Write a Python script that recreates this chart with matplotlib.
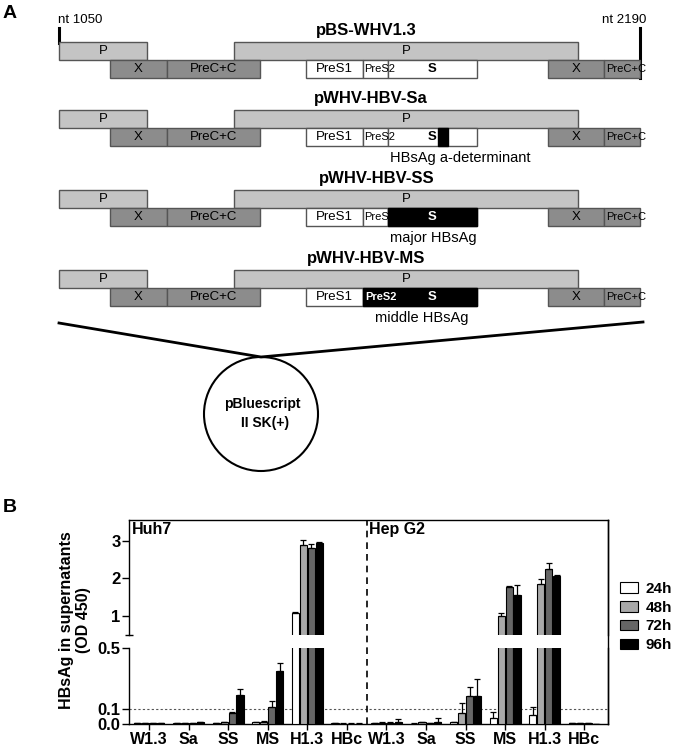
import numpy as np
import matplotlib.pyplot as plt
import matplotlib.transforms as mtransforms
from matplotlib.patches import Rectangle, Circle, Patch
from matplotlib.lines import Line2D

plt.rcParams['font.family'] = ['Liberation Sans', 'DejaVu Sans']

# ---------------- panel B data ----------------
constructs = ["W1.3", "Sa", "SS", "MS", "H1.3", "HBc"]
cell_lines = ["Huh7", "Hep G2"]
timepoints = ["24h", "48h", "72h", "96h"]
bar_colors = ["white", "#a9a9a9", "#666666", "black"]

# OD 450, Huh7 constructs then Hep G2 constructs
od_24h = [0.005, 0.005, 0.005, 0.010, 1.09, 0.005, 0.005, 0.003, 0.013, 0.041, 0.059, 0.005]
od_48h = [0.005, 0.005, 0.010, 0.015, 2.89, 0.003, 0.008, 0.010, 0.074, 1.00, 1.85, 0.005]
od_72h = [0.005, 0.005, 0.074, 0.110, 2.81, 0.003, 0.008, 0.005, 0.184, 1.78, 2.24, 0.005]
od_96h = [0.005, 0.012, 0.190, 0.350, 2.94, 0.003, 0.010, 0.010, 0.184, 1.55, 2.07, 0.002]
# upper error (SD)
sd_24h = [0.002, 0.002, 0.002, 0.003, 0.03, 0.002, 0.003, 0.002, 0.003, 0.038, 0.05, 0.002]
sd_48h = [0.002, 0.002, 0.003, 0.003, 0.12, 0.002, 0.004, 0.006, 0.066, 0.08, 0.13, 0.002]
sd_72h = [0.002, 0.002, 0.005, 0.040, 0.10, 0.002, 0.004, 0.004, 0.060, 0.02, 0.18, 0.003]
sd_96h = [0.002, 0.004, 0.040, 0.050, 0.02, 0.002, 0.020, 0.030, 0.110, 0.28, 0.02, 0.001]

# ---------------- panel A gene map (pixel units) ----------------
p_row = [(59, 147), (234, 578)]
lower_row = [(110, 167, "X"), (167, 260, "PreC+C"), (306, 363, "PreS1"),
             (363, 388, "PreS2"), (388, 477, "S"), (548, 604, "X"), (604, 640, "PreC+C")]
plasmids = ["pBS-WHV1.3", "pWHV-HBV-Sa", "pWHV-HBV-SS", "pWHV-HBV-MS"]
plasmid_x = [366, 371, 377, 366]
plasmid_y = [31, 99, 178, 258]
row_top = [42, 110, 190, 270]
row_h = 18
black_parts = [[], [(438, 448)], [(388, 477)], [(363, 477)]]
notes = ["", "HBsAg a-determinant", "major HBsAg", "middle HBsAg"]
notes_x = [0, 390, 433, 422]
notes_ha = ["left", "left", "center", "center"]

P_COL = "#c4c4c4"
X_COL = "#8c8c8c"
EDGE = "#555555"

W, H = 673, 747
fig = plt.figure(figsize=(W / 100, H / 100), dpi=100)

ax0 = fig.add_axes([0, 0, 1, 1])
ax0.set_xlim(0, W)
ax0.set_ylim(H, 0)
ax0.axis("off")

ax0.text(3, 14, "A", fontsize=14, fontweight="bold", va="center")
ax0.text(3, 508, "B", fontsize=14, fontweight="bold", va="center")
ax0.text(58, 20, "nt 1050", fontsize=9.5, va="center")
ax0.text(602, 20, "nt 2190", fontsize=9.5, va="center")
ax0.plot([59, 59], [28, 43], color="black", lw=2.2)
ax0.plot([640, 640], [28, 78], color="black", lw=2.2)

for k, name in enumerate(plasmids):
    y0 = row_top[k]
    y1 = y0 + row_h
    ax0.text(plasmid_x[k], plasmid_y[k], name, fontsize=12, fontweight="bold",
             ha="center", va="center")
    for a, b in p_row:
        ax0.add_patch(Rectangle((a, y0), b - a, row_h, fc=P_COL, ec=EDGE, lw=1, zorder=2))
        ax0.text((a + b) / 2, y0 + row_h / 2, "P", fontsize=9.5, ha="center", va="center", zorder=4)
    for a, b, lab in lower_row:
        fc = X_COL if lab in ("X", "PreC+C") else "white"
        ax0.add_patch(Rectangle((a, y1), b - a, row_h, fc=fc, ec=EDGE, lw=1, zorder=2))
        if lab == "PreS2":
            ax0.text(a + 1, y1 + row_h / 2, "PreS2", fontsize=8, ha="left", va="center", zorder=4)
        elif b == 640:
            ax0.text(a + 2, y1 + row_h / 2, lab, fontsize=8, ha="left", va="center", zorder=4)
        elif lab == "S":
            col = "white" if k >= 2 else "black"
            ax0.text(432, y1 + row_h / 2, "S", fontsize=9.5, fontweight="bold",
                     color=col, ha="center", va="center", zorder=6)
        else:
            ax0.text((a + b) / 2, y1 + row_h / 2, lab, fontsize=9.5, ha="center", va="center", zorder=4)
    for a, b in black_parts[k]:
        ax0.add_patch(Rectangle((a, y1), b - a, row_h, fc="black", ec="black", lw=1, zorder=5))
    if k == 3:
        ax0.text(365, y1 + row_h / 2, "PreS2", fontsize=8, color="white", fontweight="bold",
                 ha="left", va="center", zorder=6)
    if notes[k]:
        ax0.text(notes_x[k], y1 + row_h + 12, notes[k], fontsize=10.5, ha=notes_ha[k], va="center")

ax0.plot([59, 261, 643], [323, 357, 322], color="black", lw=2)
ax0.add_patch(Circle((261, 414), 57, fc="none", ec="black", lw=1.5))
ax0.text(262, 404, "pBluescript", fontsize=10, fontweight="bold", ha="center", va="center")
ax0.text(265, 423, "II SK(+)", fontsize=10, fontweight="bold", ha="center", va="center")

# ---------------- panel B ----------------
x = np.arange(len(constructs) * len(cell_lines))
xlim = (-0.506, 11.6)
left = 129 / W
width = (608 - 129) / W
ax_hi = fig.add_axes([left, 1 - 635 / H, width, 115 / H])
ax_lo = fig.add_axes([left, 1 - 724 / H, width, 76 / H])

vals = [od_24h, od_48h, od_72h, od_96h]
errs = [sd_24h, sd_48h, sd_72h, sd_96h]
bw = 0.18
offs = (np.arange(4) - 1.5) * 0.2

for ax in (ax_hi, ax_lo):
    for j in range(4):
        v = np.array(vals[j])
        e = np.array(errs[j])
        ax.bar(x + offs[j], v, bw, color=bar_colors[j], edgecolor="black", lw=0.8,
               yerr=[np.zeros_like(e), e],
               error_kw=dict(capsize=2, elinewidth=0.9, capthick=0.9, ecolor="black"),
               zorder=3)
    ax.set_xlim(*xlim)
    ax.tick_params(axis="y", labelsize=12, length=5, width=1, pad=1)
    for s in ax.spines.values():
        s.set_linewidth(1)

ax_hi.set_ylim(0.5, 3.55)
ax_hi.set_yticks([1, 2, 3])
ax_hi.set_yticklabels(["1", "2", "3"], fontweight="bold", fontsize=12)
ax_hi.set_yticks([0.5], minor=True)
ax_hi.tick_params(axis="y", which="minor", direction="inout", length=6, width=1)
ax_hi.spines["bottom"].set_visible(False)
ax_hi.set_xticks([])

ax_lo.set_ylim(0, 0.5)
ax_lo.set_yticks([0, 0.1, 0.5])
ax_lo.set_yticklabels(["0.0", "0.1", "0.5"], fontweight="bold", fontsize=12)
ax_lo.spines["top"].set_visible(False)
ax_lo.axhline(0.1, ls=(0, (2, 2)), color="#555555", lw=0.8, zorder=1)
ax_lo.set_xticks(x)
ax_lo.set_xticklabels(constructs * 2, fontweight="bold", fontsize=11.5)
ax_lo.tick_params(axis="x", length=4, width=1, pad=2)

ax_hi.text(-0.43, 3.5, cell_lines[0], fontsize=11.5, fontweight="bold", va="top")
ax_hi.text(5.55, 3.5, cell_lines[1], fontsize=11.5, fontweight="bold", va="top")

# dashed separator and right border across the axis break
tr = mtransforms.blended_transform_factory(ax_lo.transData, fig.transFigure)
fig.add_artist(Line2D([5.5, 5.5], [1 - 724 / H, 1 - 520 / H], transform=tr,
                      color="black", lw=1.2, ls=(0, (4, 3))))
fig.add_artist(Line2D([left + width, left + width], [1 - 724 / H, 1 - 520 / H],
                      transform=fig.transFigure, color="black", lw=1))

fig.text(75 / W, 1 - 620 / H, "HBsAg in supernatants\n(OD 450)", rotation=90,
         fontsize=11.5, fontweight="bold", ha="center", va="center", multialignment="center")

handles = [Patch(fc=c, ec="black", lw=0.8) for c in bar_colors]
ax_hi.legend(handles, timepoints, loc="upper left", bbox_to_anchor=(612 / W, 1 - 574 / H),
             bbox_transform=fig.transFigure, frameon=False, borderpad=0,
             handlelength=1.2, handleheight=0.7, handletextpad=0.5, labelspacing=0.32,
             prop={"weight": "bold", "size": 11})

fig.savefig("out.png", dpi=100)
